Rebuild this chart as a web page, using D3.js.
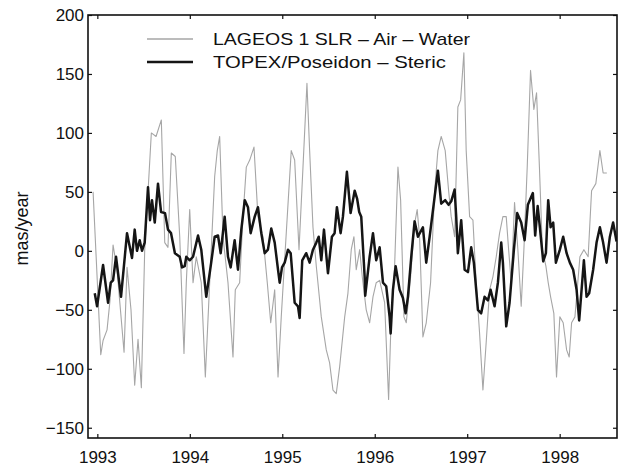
<!DOCTYPE html>
<html>
<head>
<meta charset="utf-8">
<script src="https://cdn.jsdelivr.net/npm/d3@7"></script>
<style>
  html, body { margin: 0; padding: 0; background: #fff; }
  svg { display: block; }
  text { font-family: "Liberation Sans", Arial, Helvetica, sans-serif; fill: #111; }
</style>
</head>
<body>
<svg id="chart" width="618" height="470"></svg>
<script>
// Excitation of polar motion, mas/year
// LAGEOS 1 SLR minus atmosphere and water contributions (decimal year, value)
const lageosYears = [
  1992.954, 1993.037, 1993.062, 1993.105, 1993.137, 1993.170, 1993.213, 1993.289, 1993.321, 1993.364,
  1993.404, 1993.440, 1993.476, 1993.512, 1993.584, 1993.635, 1993.692, 1993.729, 1993.764, 1993.800,
  1993.843, 1993.891, 1993.937, 1993.962, 1993.999, 1994.035, 1994.070, 1994.124, 1994.168, 1994.215,
  1994.269, 1994.297, 1994.323, 1994.359, 1994.413, 1994.467, 1994.492, 1994.539, 1994.575, 1994.611,
  1994.648, 1994.694, 1994.737, 1994.791, 1994.838, 1994.875, 1994.918, 1994.954, 1994.989, 1995.043,
  1995.097, 1995.134, 1995.181, 1995.224, 1995.267, 1995.296, 1995.332, 1995.368, 1995.422, 1995.476,
  1995.512, 1995.548, 1995.584, 1995.621, 1995.675, 1995.710, 1995.746, 1995.775, 1995.800, 1995.837,
  1995.865, 1995.908, 1995.945, 1995.981, 1996.016, 1996.053, 1996.107, 1996.150, 1996.178, 1996.215,
  1996.251, 1996.280, 1996.316, 1996.341, 1996.388, 1996.431, 1996.459, 1996.485, 1996.521, 1996.557,
  1996.604, 1996.648, 1996.683, 1996.719, 1996.762, 1996.799, 1996.827, 1996.864, 1996.899, 1996.929,
  1996.964, 1996.989, 1997.026, 1997.062, 1997.097, 1997.134, 1997.170, 1997.205, 1997.242, 1997.278,
  1997.314, 1997.350, 1997.386, 1997.422, 1997.448, 1997.476, 1997.512, 1997.548, 1997.584, 1997.613,
  1997.649, 1997.685, 1997.721, 1997.750, 1997.781, 1997.813, 1997.851, 1997.876, 1997.902, 1997.937,
  1997.966, 1998.002, 1998.038, 1998.075, 1998.103, 1998.129, 1998.165, 1998.219, 1998.262, 1998.308,
  1998.345, 1998.391, 1998.435, 1998.470, 1998.510
];
const lageosValues = [
    50,  -88,  -76,  -67,  -42,    5,  -16,  -86,  -14,  -50,
  -114,  -75, -116,    0,  100,   97,  111,    7,    3,   83,
    80,   12,  -87,  -27,   35,  -27,   -5,  -27, -107,  -27,
    63,   85,   97,   12,  -27,  -90,  -33,  -27,   29,   71,
    77,   88,   29,   12,  -27,  -61,  -33, -107,  -56,   15,
    85,   77,    1,   71,  142,   85,   20,  -13,  -56,  -84,
   -95, -118, -121,  -98,  -56,  -36,    1,   12,  -16,    1,
   -22,  -50,  -61,  -39,  -27,  -25,  -44, -126,  -56,  -13,
    71,   43,  -56,  -61,  -22,   23,   35,   12,  -73,  -61,
   -27,   51,   85,   97,   85,   51,   29,   12,  122,  128,
   168,   85,   29,   26,  -27,  -70, -118,  -78,  -33,  -22,
    -5,   15,   29,   29,    1,  -27,   41,    1,  -47,    1,
    71,  153,  120,  134,   71,    1,  -13,  -27,  -39,  -53,
  -107,  -56,  -61,  -84,  -90,  -61,  -56,   -5,    1,   -5,
    51,   57,   85,   66,   66
];

// TOPEX/Poseidon minus steric sea level contribution (decimal year, value)
const topexYears = [
  1992.972, 1992.997, 1993.062, 1993.116, 1993.145, 1993.170, 1993.202, 1993.256, 1993.321, 1993.375,
  1993.404, 1993.429, 1993.458, 1993.483, 1993.512, 1993.548, 1993.570, 1993.591, 1993.621, 1993.656,
  1993.689, 1993.732, 1993.764, 1993.797, 1993.839, 1993.891, 1993.916, 1993.945, 1993.962, 1993.999,
  1994.035, 1994.089, 1994.124, 1994.178, 1994.226, 1994.269, 1994.305, 1994.334, 1994.377, 1994.413,
  1994.442, 1994.485, 1994.521, 1994.557, 1994.594, 1994.629, 1994.658, 1994.702, 1994.737, 1994.773,
  1994.810, 1994.845, 1994.881, 1994.918, 1994.954, 1994.972, 1994.997, 1995.026, 1995.062, 1995.091,
  1995.134, 1995.170, 1995.188, 1995.216, 1995.259, 1995.296, 1995.332, 1995.368, 1995.394, 1995.422,
  1995.451, 1995.494, 1995.537, 1995.566, 1995.591, 1995.631, 1995.656, 1995.699, 1995.739, 1995.783,
  1995.810, 1995.832, 1995.854, 1995.891, 1995.897, 1995.945, 1995.981, 1996.016, 1996.053, 1996.089,
  1996.124, 1996.161, 1996.172, 1996.197, 1996.226, 1996.269, 1996.305, 1996.334, 1996.359, 1996.395,
  1996.431, 1996.467, 1996.521, 1996.557, 1996.594, 1996.648, 1996.683, 1996.719, 1996.762, 1996.799,
  1996.827, 1996.864, 1996.881, 1996.899, 1996.935, 1996.972, 1997.008, 1997.043, 1997.072, 1997.116,
  1997.151, 1997.188, 1997.224, 1997.253, 1997.296, 1997.332, 1997.368, 1997.386, 1997.422, 1997.458,
  1997.505, 1997.541, 1997.584, 1997.621, 1997.656, 1997.710, 1997.735, 1997.762, 1997.786, 1997.822,
  1997.851, 1997.876, 1997.902, 1997.930, 1997.959, 1998.002, 1998.038, 1998.075, 1998.110, 1998.146,
  1998.183, 1998.211, 1998.237, 1998.262, 1998.291, 1998.319, 1998.362, 1998.399, 1998.435, 1998.470,
  1998.507, 1998.543, 1998.578, 1998.615
];
const topexValues = [
   -36,  -47,  -12,  -44,  -27,  -25,   -5,  -39,   15,   -6,
    18,    0,    9,    0,    7,   54,   26,   43,   24,   57,
    33,   32,   18,   15,   -2,   -5,  -14,  -13,   -5,   -8,
    -5,   13,    1,  -39,  -13,   12,   13,   -2,   29,   -5,
   -14,    9,  -16,   18,   43,   37,   15,   29,   37,   15,
    -2,    1,   19,    7,  -16,  -27,  -14,  -10,    1,   -2,
   -44,  -47,  -57,   -8,   -2,  -10,    1,    7,   12,   -8,
    18,  -19,   12,   15,   37,   15,   29,   67,   32,   51,
    44,   33,   29,  -22,  -38,   -5,   15,   -8,    3,  -27,
   -30,  -56,  -70,  -33,  -13,  -33,  -40,  -53,  -39,   -5,
    25,   12,   20,  -10,   12,   46,   68,   40,   43,   39,
    42,   52,   29,   -2,   26,  -16,  -18,    3,  -10,  -50,
   -53,  -39,  -42,  -33,  -47,  -27,    7,  -10,  -64,  -44,
     1,   32,   24,    9,   39,   49,   13,   38,   20,   -9,
    -2,   43,   20,   24,  -10,    1,   12,   -2,  -10,  -16,
   -33,  -59,  -33,   -8,  -39,  -36,  -16,    7,   20,    7,
   -10,   12,   24,    8
];

// Axis ticks
const yearTicks = [1993, 1994, 1995, 1996, 1997, 1998];
const valueTicks = [-150, -100, -50, 0, 50, 100, 150, 200];

// Legend entries
const seriesNames = ["LAGEOS 1 SLR \u2013 Air \u2013 Water", "TOPEX/Poseidon \u2013 Steric"];

const lageos = lageosYears.map((t, i) => ({ t, v: lageosValues[i] }));
const topex = topexYears.map((t, i) => ({ t, v: topexValues[i] }));

const svg = d3.select("#chart");
const frame = { left: 88, right: 617, top: 15, bottom: 438 };

const x = d3.scaleLinear().domain([1992.899, 1998.620]).range([frame.left, frame.right]);
const y = d3.scaleLinear().domain([-158.7, 200]).range([frame.bottom, frame.top]);

const plot = svg.append("g");
plot.append("clipPath").attr("id", "clip")
  .append("rect")
  .attr("x", frame.left).attr("y", frame.top)
  .attr("width", frame.right - frame.left).attr("height", frame.bottom - frame.top);

const line = d3.line().x(d => x(d.t)).y(d => y(d.v));

const grayColor = "#a6a6a6";
const blackColor = "#151515";

plot.append("path")
  .datum(lageos)
  .attr("clip-path", "url(#clip)")
  .attr("fill", "none")
  .attr("stroke", grayColor)
  .attr("stroke-width", 1.1)
  .attr("stroke-linejoin", "round")
  .attr("d", line);

plot.append("path")
  .datum(topex)
  .attr("clip-path", "url(#clip)")
  .attr("fill", "none")
  .attr("stroke", blackColor)
  .attr("stroke-width", 2.5)
  .attr("stroke-linejoin", "round")
  .attr("d", line);

// Axes: labelled left and bottom, inward ticks on all four sides
const tickLen = 4;
const fontSize = 17;

const axisLeftG = svg.append("g").attr("transform", `translate(${frame.left},0)`)
  .call(d3.axisLeft(y).tickValues(valueTicks).tickSize(-tickLen).tickPadding(4).tickFormat(d => d < 0 ? "\u2212" + Math.abs(d) : d));
const axisBottomG = svg.append("g").attr("transform", `translate(0,${frame.bottom})`)
  .call(d3.axisBottom(x).tickValues(yearTicks).tickSize(-tickLen).tickPadding(13).tickFormat(d3.format("d")));
const axisRightG = svg.append("g").attr("transform", `translate(${frame.right},0)`)
  .call(d3.axisRight(y).tickValues(valueTicks).tickSize(-tickLen).tickFormat(""));
const axisTopG = svg.append("g").attr("transform", `translate(0,${frame.top})`)
  .call(d3.axisTop(x).tickValues(yearTicks).tickSize(-tickLen).tickFormat(""));

[axisLeftG, axisBottomG, axisRightG, axisTopG].forEach(g => {
  g.select(".domain").remove();
  g.selectAll(".tick line").attr("stroke", "#111").attr("stroke-width", 1.2);
  g.selectAll("text").attr("font-size", fontSize).attr("font-family", "Liberation Sans, Arial, sans-serif").attr("fill", "#111");
});

// Frame
svg.append("rect")
  .attr("x", frame.left).attr("y", frame.top)
  .attr("width", frame.right - frame.left).attr("height", frame.bottom - frame.top)
  .attr("fill", "none").attr("stroke", "#111").attr("stroke-width", 1.6);

// Y axis title
svg.append("text")
  .attr("transform", `translate(28,${(frame.top + frame.bottom) / 2 + 2}) rotate(-90)`)
  .attr("text-anchor", "middle")
  .attr("font-size", 18)
  .text("mas/year");

// Legend
const legend = svg.append("g");
const legendRows = [
  { name: seriesNames[0], color: grayColor, width: 1.3, y: 39, len: 257 },
  { name: seriesNames[1], color: blackColor, width: 2.4, y: 62, len: 233 }
];
legendRows.forEach(r => {
  legend.append("line")
    .attr("x1", 147).attr("x2", 193).attr("y1", r.y).attr("y2", r.y)
    .attr("stroke", r.color).attr("stroke-width", r.width);
  legend.append("text")
    .attr("x", 213).attr("y", r.y + 6)
    .attr("font-size", fontSize)
    .attr("textLength", r.len)
    .attr("lengthAdjust", "spacingAndGlyphs")
    .text(r.name);
});
</script>
</body>
</html>
